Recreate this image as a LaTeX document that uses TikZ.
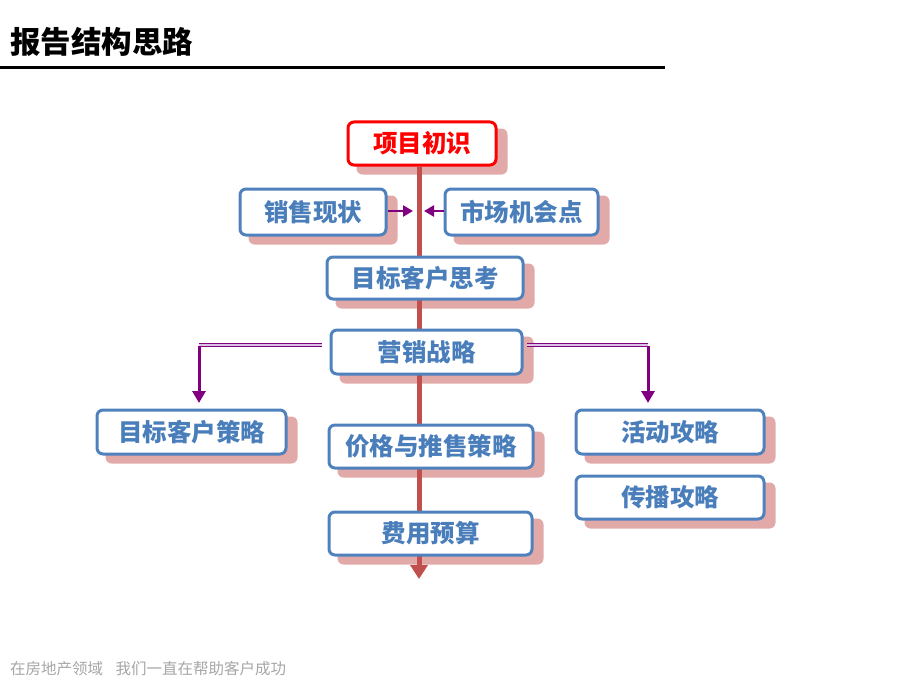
\documentclass[tikz,border=0pt]{standalone}
\usepackage{fontspec}
\setmainfont{Noto Sans CJK SC}
\usetikzlibrary{arrows.meta}
\definecolor{boxblue}{HTML}{4F81BD}
\definecolor{txtblue}{HTML}{4A7EBB}
\definecolor{shadowpink}{HTML}{E2A9A9}
\definecolor{spinered}{HTML}{C0504D}
\definecolor{arrowpurple}{HTML}{800080}
\definecolor{lavender}{HTML}{D9C2E6}
\definecolor{footgray}{HTML}{A6A6A6}
\pgfdeclarelayer{shad}
\pgfdeclarelayer{spine}
\pgfsetlayers{shad,spine,main}
\tikzset{
  card/.style={draw=boxblue, line width=3pt, fill=white, rounded corners=6pt,
    font=\fontsize{24.5}{27}\selectfont\bfseries, text=txtblue, inner sep=0pt},
  redcard/.style={card, draw=red, text=red},
  purplearrow/.style={draw=arrowpurple, line width=2.5pt, -{Triangle[width=11pt,length=10pt]}},
  dbl/.style={draw=arrowpurple, line width=1pt, double=lavender, double distance=1.6pt}
}
\begin{document}
\begin{tikzpicture}[x=1pt,y=-1pt]
\useasboundingbox (0,0) rectangle (920,690);
% title
\node[anchor=west, font=\fontsize{30.5}{33}\selectfont\bfseries, inner sep=0pt] (title) at (10,42) {报告结构思路};
\draw[line width=3pt] (0,68) -- (665,68);
% footer
\node[anchor=west, font=\fontsize{15.5}{18}\selectfont, text=footgray, inner sep=0pt] (foot) at (10,669) {在房地产领域\hspace{0.8em}我们一直在帮助客户成功};
% nodes
\node[redcard, minimum width=148pt, minimum height=43pt] (n1) at (422,143.5) {项目初识};
\node[card, minimum width=146pt, minimum height=46pt] (n2) at (313,212) {销售现状};
\node[card, minimum width=153pt, minimum height=46pt] (n3) at (521.5,212) {市场机会点};
\node[card, minimum width=196pt, minimum height=42pt] (n4) at (425,278) {目标客户思考};
\node[card, minimum width=191pt, minimum height=44pt] (n5) at (426.5,352) {营销战略};
\node[card, minimum width=189pt, minimum height=44pt] (n6) at (191.5,432) {目标客户策略};
\node[card, minimum width=204pt, minimum height=43pt] (n7) at (431,446.5) {价格与推售策略};
\node[card, minimum width=188pt, minimum height=44pt] (n8) at (670,432) {活动攻略};
\node[card, minimum width=188pt, minimum height=43pt] (n9) at (670,497.5) {传播攻略};
\node[card, minimum width=203pt, minimum height=43pt] (n10) at (430.5,533.5) {费用预算};
% shadows
\begin{pgfonlayer}{shad}
\foreach \n in {n1,n2,n3,n4,n5,n6,n7,n8,n9,n10}{
  \fill[shadowpink, rounded corners=6pt] ([shift={(10,8)}]\n.north west) rectangle ([shift={(10,8)}]\n.south east);
}
\end{pgfonlayer}
% spine
\coordinate (spx) at (419,0);
\coordinate (tip) at (419,579);
\begin{pgfonlayer}{spine}
\draw[spinered, line width=5pt, -{Triangle[width=17pt,length=14pt]}] (n1.south -| spx) -- (tip);
\end{pgfonlayer}
% side arrows
\coordinate (a2) at (413,211);
\coordinate (a3) at (424,211);
\draw[purplearrow] (n2.east |- a2) -- (a2);
\draw[purplearrow] (n3.west |- a3) -- (a3);
% double branches
\coordinate (lstart) at (322,345);
\coordinate (lcorner) at (199,345);
\coordinate (rstart) at (527,345);
\coordinate (rcorner) at (648,345);
\coordinate (lend) at (199,403);
\coordinate (rend) at (648,403);
\draw[dbl] (lstart) -- (lcorner);
\draw[dbl] (rstart) -- (rcorner);
\draw[purplearrow, line width=3pt, -{Triangle[width=13pt,length=12pt]}] ([yshift=-1pt]lcorner) -- (lend);
\draw[purplearrow, line width=3pt, -{Triangle[width=13pt,length=12pt]}] ([yshift=-1pt]rcorner) -- (rend);
\end{tikzpicture}
\end{document}
